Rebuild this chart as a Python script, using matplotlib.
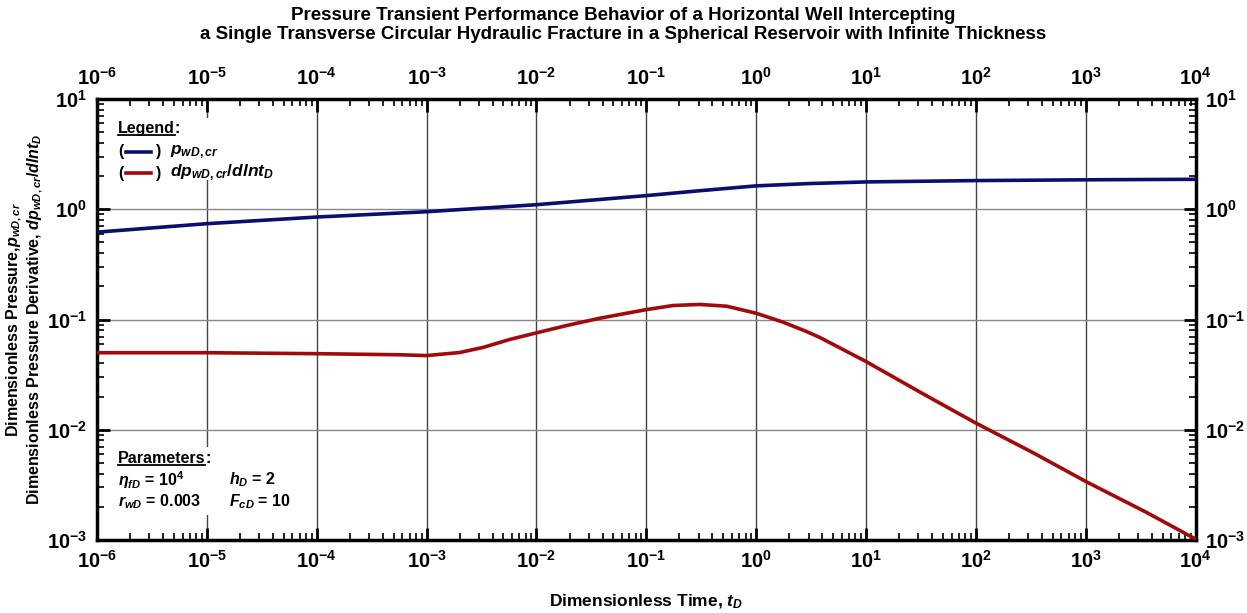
import matplotlib
matplotlib.use("Agg")
import matplotlib.pyplot as plt
import numpy as np
from matplotlib.ticker import LogLocator, FuncFormatter, NullFormatter
from matplotlib.patches import Rectangle

plt.rcParams['font.family'] = ['Liberation Sans', 'DejaVu Sans']
plt.rcParams['font.weight'] = 'bold'
plt.rcParams['axes.labelweight'] = 'bold'
plt.rcParams['figure.titleweight'] = 'bold'
plt.rcParams['mathtext.fontset'] = 'custom'
plt.rcParams['mathtext.rm'] = 'Liberation Sans:bold'
plt.rcParams['mathtext.it'] = 'Liberation Sans:bold:italic'
plt.rcParams['mathtext.bf'] = 'Liberation Sans:bold'

# Data
t_p = [1e-6, 1e-5, 1e-4, 1e-3, 1e-2, 1e-1, 0.3, 1e0, 3e0, 1e1, 1e2, 1e3, 1e4]
p_wd = [0.62, 0.74, 0.85, 0.95, 1.10, 1.33, 1.47, 1.63, 1.71, 1.77, 1.82, 1.85, 1.87]

t_d = [1e-6, 1e-5, 1e-4, 5.7e-4, 1e-3, 2e-3, 3.3e-3, 5.7e-3, 1e-2, 1.88e-2, 3.78e-2,
       1e-1, 0.175, 0.307, 0.54, 1e0, 1.76, 2.86, 3.8, 1e1, 33, 1e2, 331, 1e3, 3540, 1e4]
dp_wd = [0.050, 0.050, 0.049, 0.0479, 0.0471, 0.0502, 0.056, 0.0659, 0.0757, 0.0882, 0.1028,
         0.123, 0.134, 0.137, 0.132, 0.114, 0.0946, 0.078, 0.0687, 0.0416, 0.0212, 0.0115,
         0.0062, 0.0034, 0.00179, 0.00102]

blue = '#0a0f6e'
red = '#a00a0a'

fig = plt.figure(figsize=(12.47, 6.13), dpi=100)
ax = fig.add_axes([0.0778, 0.119, 0.881, 0.7195])

ax.plot(t_p, p_wd, color=blue, lw=2.6, zorder=4)
ax.plot(t_d, dp_wd, color=red, lw=2.6, zorder=4)

ax.set_xscale('log')
ax.set_yscale('log')
ax.set_xlim(1e-6, 1e4)
ax.set_ylim(1e-3, 1e1)

fmt = FuncFormatter(lambda v, p: r'$\mathbf{10^{%d}}$' % int(round(np.log10(v))))
ax.xaxis.set_major_locator(LogLocator(base=10, numticks=20))
ax.yaxis.set_major_locator(LogLocator(base=10, numticks=20))
ax.xaxis.set_minor_locator(LogLocator(base=10, subs=np.arange(2, 10), numticks=20))
ax.yaxis.set_minor_locator(LogLocator(base=10, subs=np.arange(2, 10), numticks=20))
ax.xaxis.set_major_formatter(fmt)
ax.yaxis.set_major_formatter(fmt)
ax.xaxis.set_minor_formatter(NullFormatter())
ax.yaxis.set_minor_formatter(NullFormatter())

ax.tick_params(which='both', direction='in', top=True, right=True,
               labeltop=True, labelright=True, labelsize=14.5)
ax.tick_params(which='major', length=9, width=2, pad=7)
ax.tick_params(which='minor', length=5, width=1.2)

ax.grid(True, which='major', axis='x', color='#444444', lw=1.0, zorder=1)
ax.grid(True, which='major', axis='y', color='#888888', lw=1.0, zorder=1)
for s in ax.spines.values():
    s.set_linewidth(2.5)

ax.set_xlabel(r'Dimensionless Time, $t_D$', fontsize=12.5)
ax.xaxis.set_label_coords(0.5, -0.12)
ax.set_ylabel('Dimensionless Pressure,' + r'$p_{wD,cr}$' + '\n'
              + r'Dimensionless Pressure Derivative, $dp_{wD,cr}/dlnt_D$',
              fontsize=11.5, linespacing=1.1)
ax.yaxis.set_label_coords(-0.047, 0.5)
fig.suptitle('Pressure Transient Performance Behavior of a Horizontal Well Intercepting\n'
             'a Single Transverse Circular Hydraulic Fracture in a Spherical Reservoir with Infinite Thickness',
             fontsize=13.5, y=0.988, linespacing=1.15)

# white boxes behind the legend and parameter blocks (they hide the grid)
ax.add_patch(Rectangle((0.012, 0.816), 0.136, 0.141, transform=ax.transAxes,
                       facecolor='white', edgecolor='none', zorder=2))
ax.add_patch(Rectangle((0.012, 0.057), 0.166, 0.154, transform=ax.transAxes,
                       facecolor='white', edgecolor='none', zorder=2))

fs = 11.5
t1 = ax.text(0.019, 0.932, 'Legend', transform=ax.transAxes, fontsize=fs, va='center', zorder=5)
ax.text(0.019, 0.88, '(', transform=ax.transAxes, fontsize=fs, va='center', zorder=5)
ax.text(0.0535, 0.88, ')', transform=ax.transAxes, fontsize=fs, va='center', zorder=5)
ax.text(0.019, 0.832, '(', transform=ax.transAxes, fontsize=fs, va='center', zorder=5)
ax.text(0.0535, 0.832, ')', transform=ax.transAxes, fontsize=fs, va='center', zorder=5)
ax.plot([0.026, 0.049], [0.88, 0.88], transform=ax.transAxes, color=blue, lw=2.6, zorder=5)
ax.plot([0.026, 0.049], [0.832, 0.832], transform=ax.transAxes, color=red, lw=2.6, zorder=5)
ax.text(0.0665, 0.88, r'$p_{wD,cr}$', transform=ax.transAxes, fontsize=fs + 1, va='center', zorder=5)
ax.text(0.0665, 0.832, r'$dp_{wD,cr}/dlnt_D$', transform=ax.transAxes, fontsize=fs + 1,
        va='center', zorder=5)

t2 = ax.text(0.019, 0.184, 'Parameters', transform=ax.transAxes, fontsize=fs, va='center', zorder=5)
ax.text(0.019, 0.136, r'$\eta_{fD}$ = 10$^{4}$', transform=ax.transAxes, fontsize=fs,
        va='center', zorder=5)
ax.text(0.019, 0.086, r'$r_{wD}$ = 0.003', transform=ax.transAxes, fontsize=fs,
        va='center', zorder=5)
ax.text(0.12, 0.136, r'$h_D$ = 2', transform=ax.transAxes, fontsize=fs, va='center', zorder=5)
ax.text(0.12, 0.086, r'$F_{cD}$ = 10', transform=ax.transAxes, fontsize=fs, va='center', zorder=5)

# underline the two headings and add the colons
fig.canvas.draw()
inv = ax.transAxes.inverted()
for t in (t1, t2):
    bb = t.get_window_extent()
    (x0, y0), (x1, y1) = inv.transform([[bb.x0, bb.y0], [bb.x1, bb.y1]])
    ax.plot([x0, x1], [y0 + 0.004, y0 + 0.004], transform=ax.transAxes,
            color='black', lw=1.3, zorder=5)
    ax.text(x1, t.get_position()[1], ':', transform=ax.transAxes, fontsize=fs,
            va='center', zorder=5)

fig.savefig('out.png', dpi=100)
